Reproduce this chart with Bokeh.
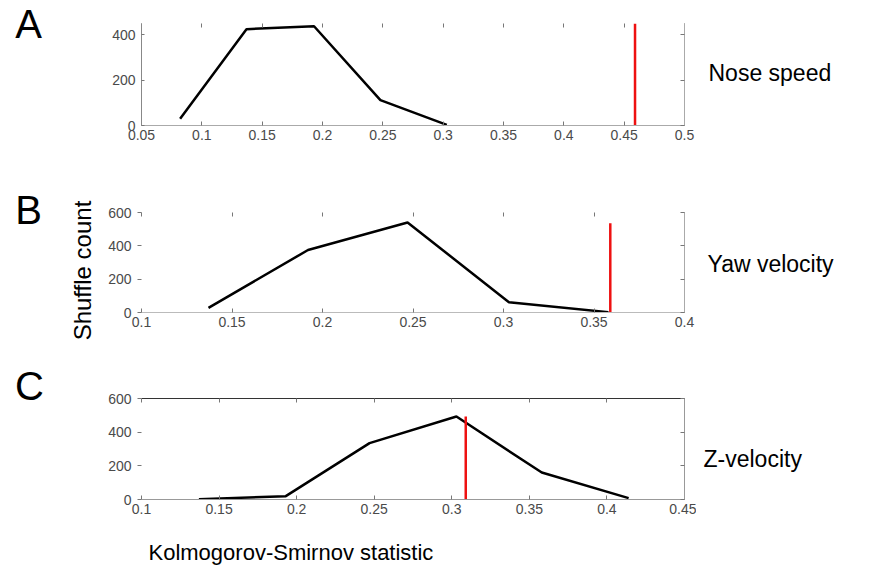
import math
from bokeh.plotting import figure
from bokeh.models import Label, LinearAxis, FixedTicker, Range1d
from bokeh.layouts import column, row
from bokeh.embed import file_html
from bokeh.resources import INLINE

# ---------------- data ----------------
# Panel A: Nose speed
a_ks = [0.082, 0.137, 0.193, 0.248, 0.303]
a_count = [30, 425, 438, 112, 3]
a_observed = 0.459
a_observed_top = 450
a_xticks = [0.05, 0.1, 0.15, 0.2, 0.25, 0.3, 0.35, 0.4, 0.45, 0.5]
a_xlabels = ["0.05", "0.1", "0.15", "0.2", "0.25", "0.3", "0.35", "0.4", "0.45", "0.5"]
a_yticks = [0, 200, 400]
a_ylabels = ["0", "200", "400"]

# Panel B: Yaw velocity
b_ks = [0.137, 0.192, 0.247, 0.303, 0.358]
b_count = [28, 375, 540, 62, 2]
b_observed = 0.359
b_observed_top = 535
b_xticks = [0.1, 0.15, 0.2, 0.25, 0.3, 0.35, 0.4]
b_xlabels = ["0.1", "0.15", "0.2", "0.25", "0.3", "0.35", "0.4"]
b_yticks = [0, 200, 400, 600]
b_ylabels = ["0", "200", "400", "600"]

# Panel C: Z-velocity
c_ks = [0.137, 0.193, 0.247, 0.303, 0.358, 0.414]
c_count = [2, 20, 335, 493, 160, 8]
c_observed = 0.309
c_observed_top = 493
c_xticks = [0.1, 0.15, 0.2, 0.25, 0.3, 0.35, 0.4, 0.45]
c_xlabels = ["0.1", "0.15", "0.2", "0.25", "0.3", "0.35", "0.4", "0.45"]
c_yticks = [0, 200, 400, 600]
c_ylabels = ["0", "200", "400", "600"]

panel_letters = ["A", "B", "C"]
panel_names = ["Nose speed", "Yaw velocity", "Z-velocity"]
y_title = "Shuffle count"
x_title = "Kolmogorov-Smirnov statistic"

FONT = "Liberation Sans"
TICK_COLOR = "#4a4a4a"


def style_axis(ax, ticks, labels, show_labels=True, line_color="#888888",
               tick_in=4, tick_out=0, standoff=5):
    ax.ticker = FixedTicker(ticks=ticks)
    ax.major_label_overrides = {t: l for t, l in zip(ticks, labels)}
    ax.minor_tick_line_color = None
    ax.major_tick_in = tick_in
    ax.major_tick_out = tick_out
    ax.major_tick_line_color = "#777777"
    ax.axis_line_color = line_color
    ax.major_label_text_font = FONT
    ax.major_label_text_color = TICK_COLOR
    ax.major_label_text_font_size = "14px" if show_labels else "0px"
    ax.major_label_standoff = standoff if show_labels else 0


def make_panel(ks, count, obs, obs_top, xt, xl, yt, yl, xr, yr,
               frame_h, top_b, bottom_b, left_line, top_line, bottom_line, right_line,
               left_tick_out):
    p = figure(frame_width=543, frame_height=frame_h, min_border_left=38,
               min_border_right=12, min_border_top=top_b, min_border_bottom=bottom_b,
               x_range=Range1d(*xr), y_range=Range1d(*yr),
               output_backend="svg", toolbar_location=None)
    p.xgrid.visible = False
    p.ygrid.visible = False
    p.outline_line_color = None
    style_axis(p.xaxis[0], xt, xl, line_color=bottom_line, standoff=4)
    style_axis(p.yaxis[0], yt, yl, line_color=left_line,
               tick_in=0 if left_tick_out else 3, tick_out=4 if left_tick_out else 0,
               standoff=6)
    top = LinearAxis()
    style_axis(top, xt, xl, show_labels=False, line_color=top_line)
    p.add_layout(top, "above")
    right = LinearAxis()
    style_axis(right, yt, yl, show_labels=False, line_color=right_line)
    p.add_layout(right, "right")
    p.line(ks, count, line_color="black", line_width=2.5)
    p.segment(x0=[obs], y0=[0], x1=[obs], y1=[obs_top], line_color="#ee1111", line_width=2.5)
    return p


pa = make_panel(a_ks, a_count, a_observed, a_observed_top, a_xticks, a_xlabels,
                a_yticks, a_ylabels, (0.05, 0.5), (0, 450), 102, 23, 45,
                "#888888", None, "#aaaaaa", "#aaaaaa", False)
pb = make_panel(b_ks, b_count, b_observed, b_observed_top, b_xticks, b_xlabels,
                b_yticks, b_ylabels, (0.1, 0.4), (0, 600), 100, 42, 40,
                None, None, "#bbbbbb", "#aaaaaa", True)
pc = make_panel(c_ks, c_count, c_observed, c_observed_top, c_xticks, c_xlabels,
                c_yticks, c_ylabels, (0.1, 0.45), (0, 600), 101, 46, 31,
                None, "#333333", "#999999", "#999999", True)


def text_fig(w, h):
    f = figure(width=w, height=h, min_border=0, x_range=Range1d(0, 1), y_range=Range1d(0, 1),
               x_axis_location=None, y_axis_location=None,
               output_backend="svg", toolbar_location=None)
    f.xgrid.visible = False
    f.ygrid.visible = False
    f.outline_line_color = None
    return f


def add_text(p, x, y, text, size, angle=0.0, align="center"):
    p.add_layout(Label(x=x, y=y, x_units="screen", y_units="screen", text=text,
                       text_font=FONT, text_font_size=size, text_color="black",
                       text_align=align, text_baseline="middle", angle=angle))


H = 580
left = text_fig(103, H)
add_text(left, 28, H - 23, panel_letters[0], "40px")
add_text(left, 28, H - 209, panel_letters[1], "40px")
add_text(left, 29, H - 385, panel_letters[2], "40px")
add_text(left, 82, H - 270, y_title, "24px", angle=math.pi / 2)

right = text_fig(177, H)
add_text(right, 12, H - 72, panel_names[0], "23px", align="left")
add_text(right, 11, H - 263, panel_names[1], "23px", align="left")
add_text(right, 7, H - 458, panel_names[2], "23px", align="left")

bottom = text_fig(593, 50)
add_text(bottom, 7, 50 - 22, x_title, "22px", align="left")

layout = row(left, column(pa, pb, pc, bottom, spacing=0), right, spacing=0)
open("out.html", "w").write(file_html(layout, INLINE))
